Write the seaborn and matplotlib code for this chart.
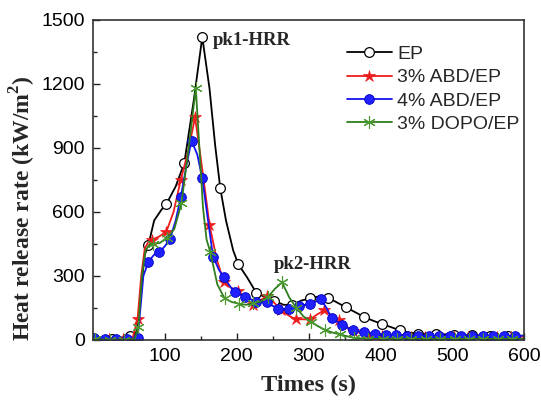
import numpy as np
import pandas as pd
import matplotlib
matplotlib.use("Agg")
import matplotlib.pyplot as plt
from matplotlib.ticker import MultipleLocator, FixedLocator
import seaborn as sns

# ---------------- data ----------------
series_names = ["EP", "3% ABD/EP", "4% ABD/EP", "3% DOPO/EP"]

ep_t = [2, 15, 27, 40, 45, 52, 58, 62, 67, 72, 77, 85, 95, 102, 115, 127, 140, 152, 162, 170,
        177, 185, 195, 202, 215, 227, 240, 252, 265, 277, 290, 302, 315, 327, 340, 352, 365,
        377, 390, 402, 415, 427, 440, 452, 477, 502, 527, 552, 577, 600]
ep_y = [5, 5, 5, 12, 15, 18, 15, 60, 250, 400, 445, 560, 610, 637, 720, 830, 1120, 1420, 1180, 910,
        712, 560, 420, 356, 290, 222, 200, 185, 165, 165, 185, 195, 205, 198, 175, 153, 130,
        108, 90, 75, 60, 45, 35, 30, 28, 25, 22, 20, 20, 20]
ep_marks = list(range(2, 600, 25))

abd3_t = [2, 22, 42, 55, 62, 67, 72, 77, 82, 92, 102, 112, 122, 132, 142, 152, 162, 172, 182, 192,
          202, 212, 222, 232, 242, 252, 262, 272, 282, 292, 302, 312, 322, 332, 342, 352, 362,
          382, 402, 422, 442, 462, 482, 502, 522, 542, 562, 582, 600]
abd3_y = [5, 5, 5, 8, 100, 300, 430, 460, 470, 485, 508, 600, 750, 880, 1044, 800, 540, 380, 270, 245,
          230, 195, 164, 185, 205, 175, 140, 115, 97, 97, 97, 120, 140, 115, 94, 65, 42,
          25, 20, 15, 15, 15, 15, 15, 15, 15, 15, 15, 15]
abd3_marks = list(range(2, 600, 20))

abd4_t = [2, 17, 32, 47, 57, 62, 66, 70, 77, 85, 92, 100, 107, 115, 122, 130, 137, 145, 152, 160,
          167, 175, 182, 190, 197, 205, 212, 220, 227, 235, 242, 250, 257, 265, 272, 280, 287,
          295, 302, 310, 317, 325, 332, 340, 347, 355, 362, 377, 392, 407, 422, 437, 452, 467,
          482, 497, 512, 527, 542, 557, 572, 587, 600]
abd4_y = [8, 5, 5, 5, 5, 10, 150, 300, 367, 400, 411, 440, 473, 560, 669, 820, 934, 870, 758, 560,
          391, 330, 294, 255, 223, 212, 203, 190, 180, 180, 180, 160, 145, 145, 145, 150, 160,
          165, 168, 180, 190, 150, 101, 85, 70, 55, 47, 36, 30, 25, 22, 20, 20, 20,
          20, 20, 20, 20, 20, 20, 20, 20, 20]
abd4_marks = list(range(2, 600, 15))

dopo_t = [3, 23, 43, 58, 63, 68, 73, 78, 83, 93, 103, 113, 123, 133, 143, 148, 153, 158, 163, 173,
          183, 193, 203, 213, 223, 233, 243, 253, 263, 273, 283, 293, 303, 313, 323, 333, 343,
          353, 363, 383, 403, 423, 443, 463, 483, 503, 523, 543, 563, 583, 600]
dopo_y = [3, 2, 2, 5, 60, 300, 420, 445, 450, 455, 480, 520, 640, 900, 1180, 900, 620, 470, 414, 260,
          195, 178, 170, 165, 172, 180, 200, 240, 270, 200, 150, 110, 86, 65, 47, 35, 27,
          18, 10, 6, 5, 5, 5, 5, 5, 5, 5, 5, 5, 5, 5]
dopo_marks = list(range(3, 600, 20))

x_ticks = [100, 200, 300, 400, 500, 600]
y_ticks = [0, 300, 600, 900, 1200, 1500]

# ---------------- style ----------------
sns.set_style("ticks")
plt.rcParams["font.family"] = ["Liberation Sans", "DejaVu Sans"]
plt.rcParams["mathtext.fontset"] = "custom"
plt.rcParams["mathtext.rm"] = "Liberation Serif:bold"
plt.rcParams["mathtext.bf"] = "Liberation Serif:bold"

fig = plt.figure(figsize=(5.41, 4.0), dpi=100)
ax = fig.add_axes([0.172, 0.15, 0.797, 0.80])

styles = [
    dict(color="black", marker="o", markersize=7, markerfacecolor="white",
         markeredgecolor="black", markeredgewidth=0.9),
    dict(color="#ee1c1c", marker="*", markersize=9, markerfacecolor="#ee1c1c",
         markeredgecolor="#ee1c1c", markeredgewidth=0.5),
    dict(color="#1414f0", marker="o", markersize=7, markerfacecolor="#2020ff",
         markeredgecolor="#0000c8", markeredgewidth=0.6),
    dict(color="#2f7d1c", marker=(6, 2, 0), markersize=9, markerfacecolor="#4a9a30",
         markeredgecolor="#4a9a30", markeredgewidth=0.8),
]
datasets = [(ep_t, ep_y, ep_marks), (abd3_t, abd3_y, abd3_marks),
            (abd4_t, abd4_y, abd4_marks), (dopo_t, dopo_y, dopo_marks)]

for name, (t, y, marks), st in zip(series_names, datasets, styles):
    df = pd.DataFrame({"t": t, "hrr": y})
    mset = set(marks)
    idx = [i for i, tv in enumerate(t) if tv in mset]
    sns.lineplot(data=df, x="t", y="hrr", ax=ax, label=name, linewidth=1.3,
                 markevery=idx, **st)

ax.set_xlim(0, 600)
ax.set_ylim(0, 1500)
ax.xaxis.set_major_locator(FixedLocator(x_ticks))
ax.xaxis.set_minor_locator(MultipleLocator(50))
ax.yaxis.set_major_locator(FixedLocator(y_ticks))
ax.yaxis.set_minor_locator(MultipleLocator(150))
ax.tick_params(which="major", direction="in", length=5, width=1.0, labelsize=14, pad=6,
               colors="#222222", labelcolor="black")
ax.tick_params(which="minor", direction="in", length=3, width=1.0, colors="#222222")
for s in ax.spines.values():
    s.set_linewidth(1.2)
    s.set_color("#333333")
    s.set_visible(True)

ax.set_xlabel("Times (s)", fontsize=17.5, fontweight="bold", family="Liberation Serif")
ax.set_ylabel("Heat release rate (kW/m$^2$)", fontsize=17, fontweight="bold",
              family="Liberation Serif")
ax.xaxis.set_label_coords(0.5, -0.11)
ax.yaxis.set_label_coords(-0.128, 0.4125)

ax.text(167, 1406, "pk1-HRR", fontsize=13.5, fontweight="bold", family="Liberation Serif",
        ha="left", va="center")
ax.text(252, 352, "pk2-HRR", fontsize=13.5, fontweight="bold", family="Liberation Serif",
        ha="left", va="center")

leg = ax.legend(loc="upper left", bbox_to_anchor=(0.589, 0.921), frameon=False, fontsize=14,
                handlelength=2.31, handletextpad=0.26, labelspacing=0.3, borderaxespad=0,
                borderpad=0)

fig.savefig("out.png", dpi=100)
